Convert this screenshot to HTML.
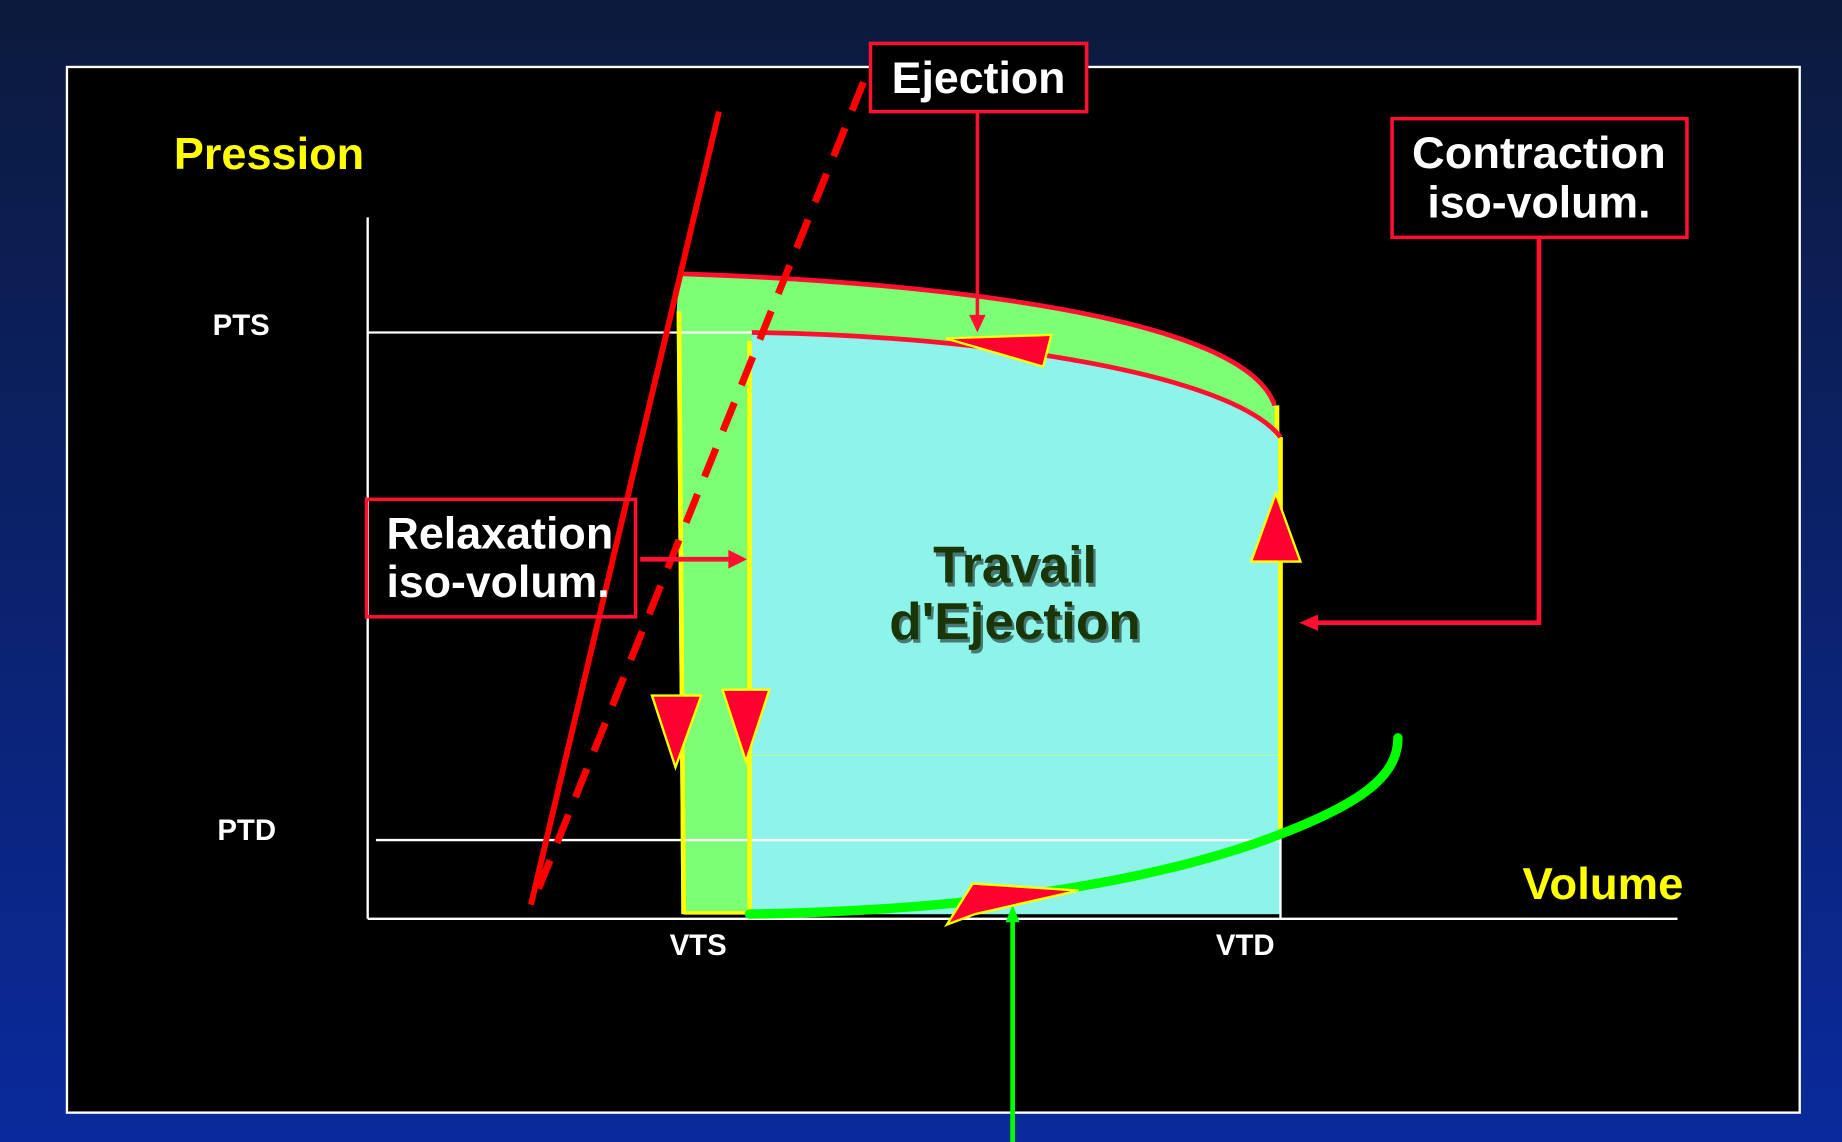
<!DOCTYPE html>
<html><head><meta charset="utf-8"><style>
html,body{margin:0;padding:0;width:1842px;height:1142px;overflow:hidden}
svg{display:block}
text{font-family:"Liberation Sans",sans-serif;font-weight:bold}
</style></head><body>
<svg width="1842" height="1142" viewBox="0 0 1568 972" preserveAspectRatio="none">
<defs>
<linearGradient id="bg" x1="0" y1="0" x2="0" y2="1">
<stop offset="0" stop-color="#0c1a3c"/><stop offset="1" stop-color="#0a2a9c"/>
</linearGradient>
</defs>
<rect width="1568" height="972" fill="url(#bg)"/>
<rect x="57" y="57" width="1475" height="890" fill="#000" stroke="#fff" stroke-width="2"/>

<path d="M578,233 C800,240 1060,270 1085,345 L1090,372 L1090,778 L580,778 L576,265 Z" fill="#7cff74"/>
<path d="M640,283 C850,286 1050,320 1088,372 L1090,778 L638,778 Z" fill="#8ef4ea"/>
<line x1="638" y1="643" x2="1090" y2="643" stroke="#aaffaa" stroke-width="1"/>

<line x1="313" y1="185" x2="313" y2="782" stroke="#fff" stroke-width="2"/>
<line x1="313" y1="782" x2="1428" y2="782" stroke="#fff" stroke-width="2"/>
<line x1="313" y1="283" x2="640" y2="283" stroke="#fff" stroke-width="2"/>
<line x1="320" y1="715" x2="1090" y2="715" stroke="#fff" stroke-width="2"/>
<line x1="1090" y1="700" x2="1090" y2="782" stroke="#fff" stroke-width="2"/>

<line x1="578" y1="265" x2="582" y2="778" stroke="#ffff00" stroke-width="4"/>
<line x1="638" y1="290" x2="638" y2="778" stroke="#ffff00" stroke-width="4"/>
<line x1="1090" y1="372" x2="1090" y2="710" stroke="#ffff00" stroke-width="4"/>
<line x1="1087" y1="345" x2="1087" y2="372" stroke="#ffff00" stroke-width="4"/>
<line x1="582" y1="777" x2="638" y2="777" stroke="#ffff00" stroke-width="3"/>

<path d="M578,233 C800,240 1060,270 1085,345" fill="none" stroke="#ff1030" stroke-width="4"/>
<path d="M640,283 C850,286 1050,320 1090,372" fill="none" stroke="#ff1030" stroke-width="4"/>

<line x1="612" y1="95" x2="452" y2="770" stroke="#ff0000" stroke-width="5"/>
<line x1="735" y1="70" x2="455" y2="765" stroke="#ff0000" stroke-width="6" stroke-dasharray="26,16"/>

<path d="M638,778 C850,775 1000,745 1090,710 C1160,683 1190,660 1190,628" fill="none" stroke="#00ff00" stroke-width="8" stroke-linecap="round"/>
<line x1="862" y1="775" x2="862" y2="972" stroke="#00ff00" stroke-width="4"/>
<polygon points="862,770 856,785 868,785" fill="#00ff00"/>

<polygon points="895,285 888,312 805,288" fill="#ff0030" stroke="#ffff00" stroke-width="2"/>
<polygon points="1065,478 1107,478 1086,420" fill="#ff0030" stroke="#ffff00" stroke-width="2"/>
<polygon points="555,592 597,592 575,653" fill="#ff0030" stroke="#ffff00" stroke-width="2"/>
<polygon points="615,587 655,587 635,648" fill="#ff0030" stroke="#ffff00" stroke-width="2"/>
<polygon points="828,752 918,758 830,778 806,787" fill="#ff0030" stroke="#ffff00" stroke-width="2"/>

<line x1="832" y1="95" x2="832" y2="272" stroke="#ff1030" stroke-width="3"/>
<polygon points="832,283 825,268 839,268" fill="#ff1030"/>
<polyline points="1310,202 1310,530 1120,530" fill="none" stroke="#ff1030" stroke-width="4"/>
<polygon points="1106,530 1122,523 1122,537" fill="#ff1030"/>
<line x1="545" y1="476" x2="622" y2="476" stroke="#ff1030" stroke-width="4"/>
<polygon points="636,476 620,468 620,484" fill="#ff1030"/>

<rect x="741" y="37" width="184" height="58" fill="#000" stroke="#ff1030" stroke-width="3"/>
<text x="833" y="79" font-size="38" fill="#fff" text-anchor="middle" textLength="148" lengthAdjust="spacingAndGlyphs">Ejection</text>
<rect x="1185" y="101" width="251" height="101" fill="#000" stroke="#ff1030" stroke-width="3"/>
<text x="1310" y="143" font-size="38" fill="#fff" text-anchor="middle" textLength="216" lengthAdjust="spacingAndGlyphs">Contraction</text>
<text x="1310" y="185" font-size="38" fill="#fff" text-anchor="middle" textLength="190" lengthAdjust="spacingAndGlyphs">iso-volum.</text>
<rect x="312" y="425" width="229" height="100" fill="none" stroke="#ff1030" stroke-width="3"/>
<text x="329" y="467" font-size="38" fill="#fff" textLength="193" lengthAdjust="spacingAndGlyphs">Relaxation</text>
<text x="329" y="508" font-size="38" fill="#fff" textLength="190" lengthAdjust="spacingAndGlyphs">iso-volum.</text>

<text x="148" y="144" font-size="38" fill="#ffff00" textLength="162" lengthAdjust="spacingAndGlyphs">Pression</text>
<text x="1296" y="765" font-size="38" fill="#ffff00" textLength="137" lengthAdjust="spacingAndGlyphs">Volume</text>
<text x="181" y="285" font-size="25" fill="#fff">PTS</text>
<text x="185" y="715" font-size="25" fill="#fff">PTD</text>
<text x="570" y="813" font-size="25" fill="#fff">VTS</text>
<text x="1035" y="813" font-size="25" fill="#fff">VTD</text>
<text x="864" y="496" font-size="44" fill="#000" opacity="0.5" text-anchor="middle" transform="translate(2,3)">Travail</text>
<text x="864" y="544" font-size="44" fill="#000" opacity="0.5" text-anchor="middle" transform="translate(2,3)" textLength="214" lengthAdjust="spacingAndGlyphs">d'Ejection</text>
<text x="864" y="496" font-size="44" fill="#1a3608" text-anchor="middle">Travail</text>
<text x="864" y="544" font-size="44" fill="#1a3608" text-anchor="middle" textLength="214" lengthAdjust="spacingAndGlyphs">d'Ejection</text>
</svg>
</body></html>
